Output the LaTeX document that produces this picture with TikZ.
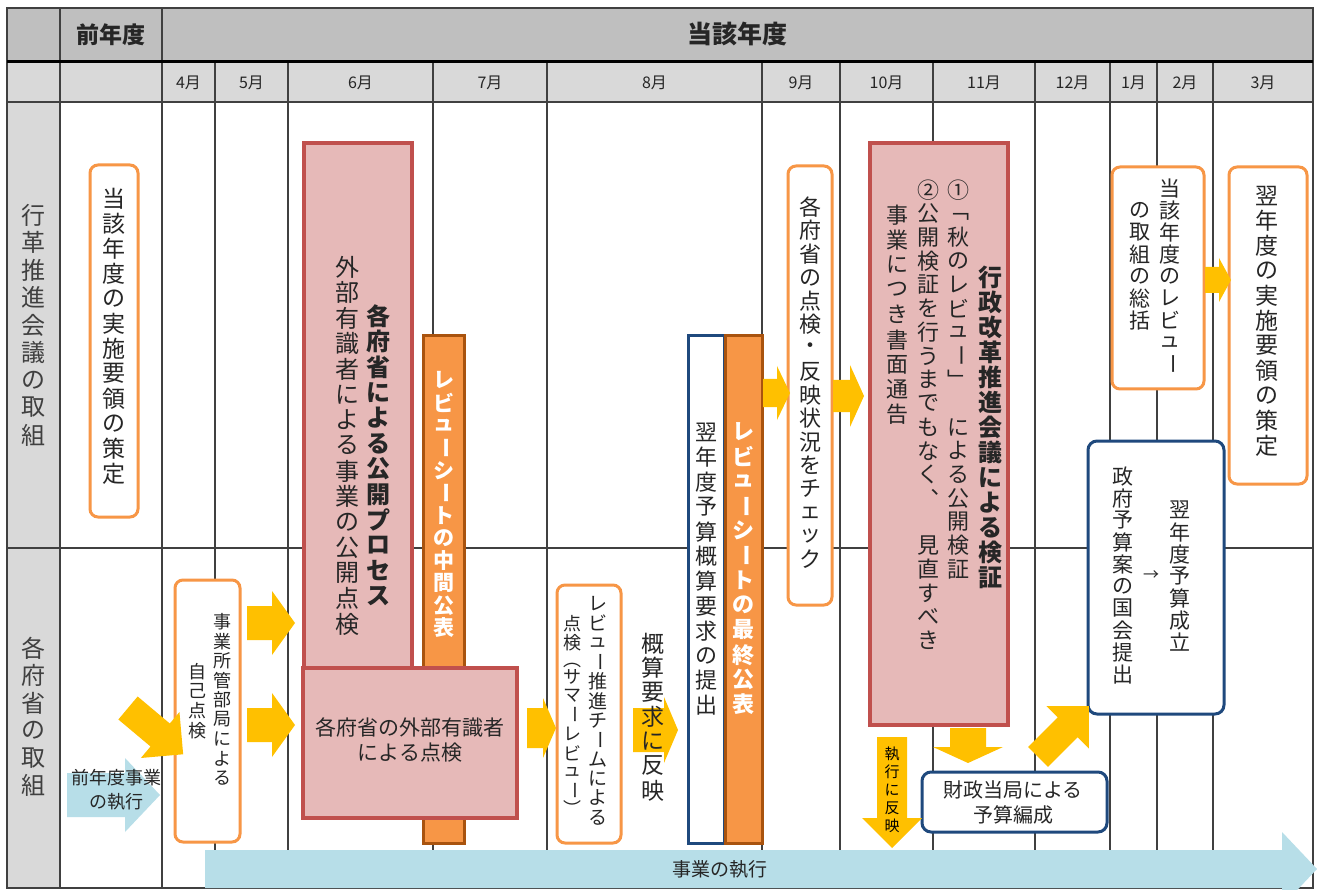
\documentclass[tikz,border=0pt]{standalone}
\usepackage{fontspec}
\usepackage{graphicx}
\setmainfont{Noto Sans CJK JP}
\definecolor{hdA}{HTML}{BFBFBF}
\definecolor{hdB}{HTML}{D9D9D9}
\definecolor{gridc}{HTML}{404040}
\definecolor{orbd}{HTML}{F79646}
\definecolor{orf}{HTML}{F79646}
\definecolor{barbd}{HTML}{A9530E}
\definecolor{pinkf}{HTML}{E6B9B8}
\definecolor{redbd}{HTML}{C0504D}
\definecolor{navy}{HTML}{1F497D}
\definecolor{yel}{HTML}{FFC000}
\definecolor{lb}{HTML}{B7DEE8}
\definecolor{txt}{HTML}{262626}
\definecolor{lab}{HTML}{404040}

\ExplSyntaxOn
\dim_new:N \l__vt_pitch_dim
\cs_new_protected:Npn \__vt_cell:nn #1 #2
  {
    \hbox_to_wd:nn {1em}
      {
        \hss
        \vbox_to_ht:nn { #1 \l__vt_pitch_dim } { \vss \hbox:n {#2} \vss }
        \hss
      }
  }
\cs_new_protected:Npn \__vt_char:n #1
  {
    \str_case:nnF {#1}
      {
        {ー} { \__vt_cell:nn {1} { \hbox_to_wd:nn {1em} { \hss \rotatebox{-90}{ー} \hss } } }
        {「} { \__vt_cell:nn {1} { \raisebox{-0.15em}[\height][\depth]{﹁} } }
        {」} { \__vt_cell:nn {1} { ﹂ } }
        {(} { \__vt_cell:nn {0.8} { \raisebox{-0.32em}[\height][\depth]{︵} } }
        {)} { \__vt_cell:nn {0.8} { ︶ } }
        {、} { \__vt_cell:nn {1} { ︑ } }
      }
      { \__vt_cell:nn {1} {#1} }
  }
\NewDocumentCommand{\vt}{O{1.05em} m}
  {
    \dim_set:Nn \l__vt_pitch_dim {#1}
    \vbox:n
      {
        \offinterlineskip
        \tl_map_inline:nn {#2} { \__vt_char:n {##1} }
      }
  }
\ExplSyntaxOff

\newcommand\fs[2]{\fontsize{#1}{#2}\selectfont}
\newcommand\rarr[7]{% style, x0, x1, yc, bodyhalf, headhalf, headlen
  \fill[#1] (#2,{#4-#5}) -- ({#3-#7},{#4-#5}) -- ({#3-#7},{#4-#6}) -- (#3,#4)
    -- ({#3-#7},{#4+#6}) -- ({#3-#7},{#4+#5}) -- (#2,{#4+#5}) -- cycle;}
\newcommand\darr[7]{% style, xc, y0, y1, bodyhalf, headhalf, headlen
  \fill[#1] ({#2-#5},#3) -- ({#2+#5},#3) -- ({#2+#5},{#4-#7}) -- ({#2+#6},{#4-#7})
    -- (#2,#4) -- ({#2-#6},{#4-#7}) -- ({#2-#5},{#4-#7}) -- cycle;}
\newcommand\bx[6]{\node[#2, inner sep=0pt, minimum width={(#5)-(#3)}, minimum height={(#6)-(#4)}]
  (#1) at ({((#3)+(#5))/2},{((#4)+(#6))/2}) {};}

\tikzset{
  grid/.style={draw=gridc, line width=1.2pt},
  obox/.style={draw=orbd, line width=3pt, fill=white, rounded corners=8pt},
  pbox/.style={draw=redbd, line width=3.5pt, fill=pinkf},
  obar/.style={draw=barbd, line width=3pt, fill=orf},
  nbox/.style={draw=navy, line width=3pt, fill=white, rounded corners=9pt},
  vtx/.style={anchor=north, inner sep=0pt, text=txt},
  htx/.style={inner sep=0pt, text=txt, align=center},
}

\begin{document}
\begin{tikzpicture}[x=1pt,y=-1pt]
\clip (0,0) rectangle (1317,890);
\fill[white] (0,0) rectangle (1317,890);

% header fills
\fill[hdA] (7,8) rectangle (1313,62);
\fill[hdB] (7,62) rectangle (1313,102);
\fill[hdB] (7,102) rectangle (60,888);

% grid
\foreach \x in {60,162} \draw[grid] (\x,8) -- (\x,888);
\foreach \x in {215,288,433,547,762,840,933,1035,1110,1157,1213} \draw[grid] (\x,62) -- (\x,888);
\draw[grid] (7,102) -- (1313,102);
\draw[grid] (7,548) -- (1313,548);
\draw[grid] (7,8) rectangle (1313,888);
\draw[line width=3pt, black] (7,62) -- (1313,62);

% header texts
\node[htx, font=\fs{23}{26}\bfseries] (zen) at (111,35) {前年度};
\node[htx, font=\fs{25}{28}\bfseries] (tou) at (737,34) {当該年度};
\foreach \m/\x in {4/188.5,5/251.5,6/360.5,7/490,8/654.5,9/801,10/886.5,11/984,12/1072.5,1/1133.5,2/1185,3/1263}
  \node[htx, font=\fs{16}{18}] (m\m) at (\x,83) {\m 月};

% section labels
\node[inner sep=0pt, text=lab, font=\fs{24}{24}] (sec1) at (33,325) {\vt[27.5pt]{行革推進会議の取組}};
\node[inner sep=0pt, text=lab, font=\fs{24}{24}] (sec2) at (33,717) {\vt[27.5pt]{各府省の取組}};

% bottom execution arrow
\rarr{lb}{205}{1317}{869}{19}{37}{35}
\node[htx, font=\fs{19}{22}] (exec) at (720,869) {事業の執行};

% ---------- section 1 ----------
\bx{jisshi}{obox}{90}{165}{138}{517}
\node[vtx, font=\fs{23}{23}] (tjisshi) at (114,186) {\vt[25pt]{当該年度の実施要領の策定}};

\bx{bar1}{obar}{423}{336}{464}{843}
\bx{pub}{pbox}{304}{143}{412}{672}
\node[vtx, font=\fs{24}{24}\bfseries] (tpubA) at (378,303) {\vt[25.5pt]{各府省による公開プロセス}};
\node[vtx, font=\fs{24}{24}] (tpubB) at (347,254) {\vt[25.5pt]{外部有識者による事業の公開点検}};
\node[vtx, font=\fs{21}{21}\bfseries, text=white] (tbar1) at (443.5,369) {\vt[22.5pt]{レビューシートの中間公表}};

\bx{gaisan}{nbox, rounded corners=0pt}{688}{336}{724}{843}
\node[vtx, font=\fs{22}{22}] (tgaisan) at (706,420) {\vt[24.8pt]{翌年度予算概算要求の提出}};
\bx{bar2}{obar}{725}{336}{762}{843}
\node[vtx, font=\fs{22}{22}\bfseries, text=white] (tbar2) at (743.5,419) {\vt[24.8pt]{レビューシートの最終公表}};

\bx{check}{obox}{788}{166}{832}{605}
\node[vtx, font=\fs{22}{22}] (tcheck) at (810,195) {\vt[23.5pt]{各府省の点検・反映状況をチェック}};

\bx{kensho}{pbox}{870}{143}{1008}{725}
\node[vtx, font=\fs{24}{24}\bfseries] (tkA) at (990,265) {\vt[25pt]{行政改革推進会議による検証}};
\node[vtx, font=\fs{22}{22}] (tkB) at (958,178) {\vt[23.7pt]{①「秋のレビュー」　による公開検証}};
\node[vtx, font=\fs{22}{22}] (tkC) at (928,178) {\vt[23.7pt]{②公開検証を行うまでもなく、　見直すべき}};
\node[vtx, font=\fs{22}{22}] (tkD) at (897,202) {\vt[25pt]{事業につき書面通告}};

\bx{sokatsu}{obox}{1112}{167}{1204}{389}
\node[vtx, font=\fs{21}{21}] (tsA) at (1170,177) {\vt[22pt]{当該年度のレビュー}};
\node[vtx, font=\fs{21}{21}] (tsB) at (1140,199) {\vt[22pt]{の取組の総括}};

\bx{yoku}{obox}{1229}{167}{1307}{484}
\node[vtx, font=\fs{23}{23}] (tyoku) at (1267,183) {\vt[25pt]{翌年度の実施要領の策定}};

% ---------- section 2 ----------
\rarr{lb}{67}{160}{795}{22}{37}{35}
\node[htx, font=\fs{18}{24}] (tzen) at (116,790) {前年度事業\\の執行};

\bx{jiko}{obox}{175}{580}{240}{842}
\node[vtx, font=\fs{18}{18}] (tjA) at (222,612) {\vt[19.5pt]{事業所管部局による}};
\node[vtx, font=\fs{18}{18}] (tjB) at (197,662) {\vt[19.5pt]{自己点検}};

\bx{gaibu}{pbox}{303}{668}{517}{818}
\node[htx, font=\fs{21}{25}] (tgaibu) at (410,740) {各府省の外部有識者\\による点検};

\bx{summer}{obox}{557}{585}{621}{843}
\node[vtx, font=\fs{19}{19}] (tsmA) at (598,594) {\vt[19.4pt]{レビュー推進チームによる}};
\node[vtx, font=\fs{18}{18}] (tsmB) at (572,614) {\vt[19pt]{点検(サマーレビュー)}};

\rarr{yel}{633}{678}{730}{22}{33}{14}
\node[vtx, font=\fs{23}{23}] (thanei) at (653,631) {\vt[24.5pt]{概算要求に反映}};

\bx{zaisei}{nbox}{922}{772}{1107}{832}
\node[htx, font=\fs{20}{25}] (tzaisei) at (1013,802) {財政当局による\\予算編成};

\bx{seifu}{nbox}{1088}{441}{1224}{714}
\node[vtx, font=\fs{21}{21}] (tseA) at (1180,499) {\vt[22pt]{翌年度予算成立}};
\node[vtx, font=\fs{21}{21}] (tseB) at (1123,465) {\vt[22pt]{政府予算案の国会提出}};
\node[htx, font=\fs{16}{16}] (tarr) at (1151,576) {→};

% yellow arrows
\rarr{yel}{247}{295}{623}{17}{32}{23}
\rarr{yel}{247}{295}{725}{17}{32}{23}
\rarr{yel}{527}{556}{728}{20}{30}{13}
\rarr{yel}{763}{790}{393}{14}{27}{13}
\rarr{yel}{833}{864}{396}{16}{31}{14}
\rarr{yel}{1205}{1231}{280}{13}{22}{12}
\darr{yel}{968}{728}{763}{18}{35}{16}
\darr{yel}{892}{737}{848}{15}{30}{30}
\node[vtx, font=\fs{15}{15}, text=black] (tshikko) at (892,745) {\vt[18pt]{執行に反映}};
\begin{scope}[shift={(1038,757)}, rotate=45]
  \rarr{yel}{0}{72}{0}{14}{30}{30}
\end{scope}
\begin{scope}[shift={(128,708)}, rotate=-40]
  \rarr{yel}{0}{72}{0}{15}{30}{30}
\end{scope}
\end{tikzpicture}
\end{document}
